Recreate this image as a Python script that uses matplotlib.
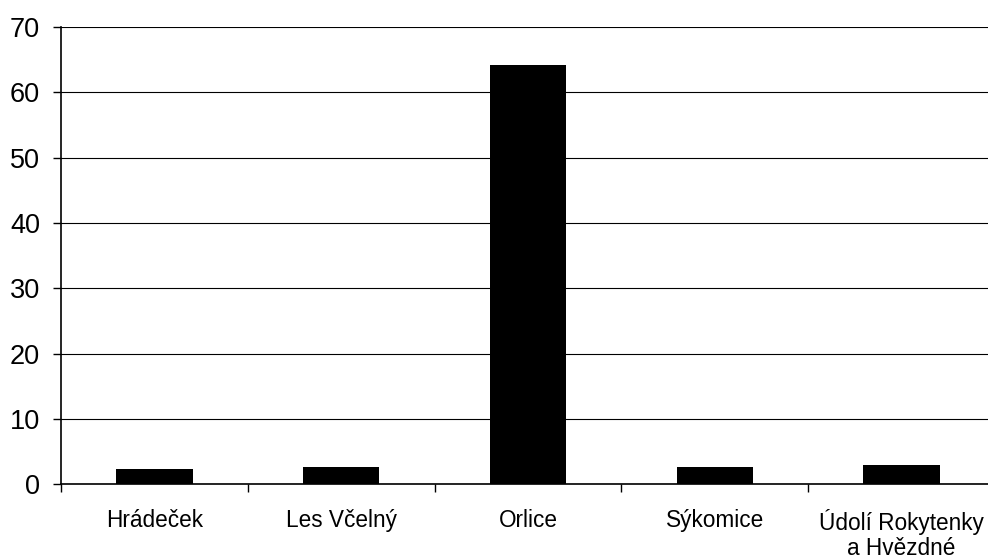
import matplotlib
matplotlib.use("Agg")
import matplotlib.pyplot as plt
import numpy as np

# Data
categories = ["Hrádeček", "Les Včelný", "Orlice", "Sýkomice", "Údolí Rokytenky\na Hvězdné"]
values = [2.3, 2.6, 64.2, 2.6, 2.9]
yticks = [0, 10, 20, 30, 40, 50, 60, 70]

plt.rcParams["font.family"] = ["Liberation Sans", "DejaVu Sans"]

fig = plt.figure(figsize=(9.88, 5.58), dpi=100)
# axes runs slightly past the right edge, like the source chart
ax = fig.add_axes([61 / 988, 73.7 / 558, 934 / 988, 457.3 / 558])

x = np.arange(len(categories))
ax.bar(x, values, width=0.41, color="black", zorder=3)

ax.set_xlim(-0.5, len(categories) - 0.5)
ax.set_ylim(0, 70)
ax.set_yticks(yticks)
ax.yaxis.grid(True, color="black", linewidth=0.8, zorder=0)

# tick marks between the categories, labels centred under the bars
ax.set_xticks(np.arange(len(categories) + 1) - 0.5)
ax.set_xticklabels([])
ax.set_xticks(x, minor=True)
ax.set_xticklabels(categories, minor=True, fontsize=16.3, linespacing=1.12, va="top")
ax.tick_params(axis="x", which="minor", length=0, pad=17.5)
ax.tick_params(axis="x", which="major", length=6, width=1, direction="out")
ax.tick_params(axis="y", length=6, width=1, direction="out", labelsize=19.5, pad=9)

for side in ["top", "right"]:
    ax.spines[side].set_visible(False)
ax.spines["left"].set_linewidth(1.2)
ax.spines["bottom"].set_linewidth(1.2)

fig.savefig("out.png", dpi=100)
